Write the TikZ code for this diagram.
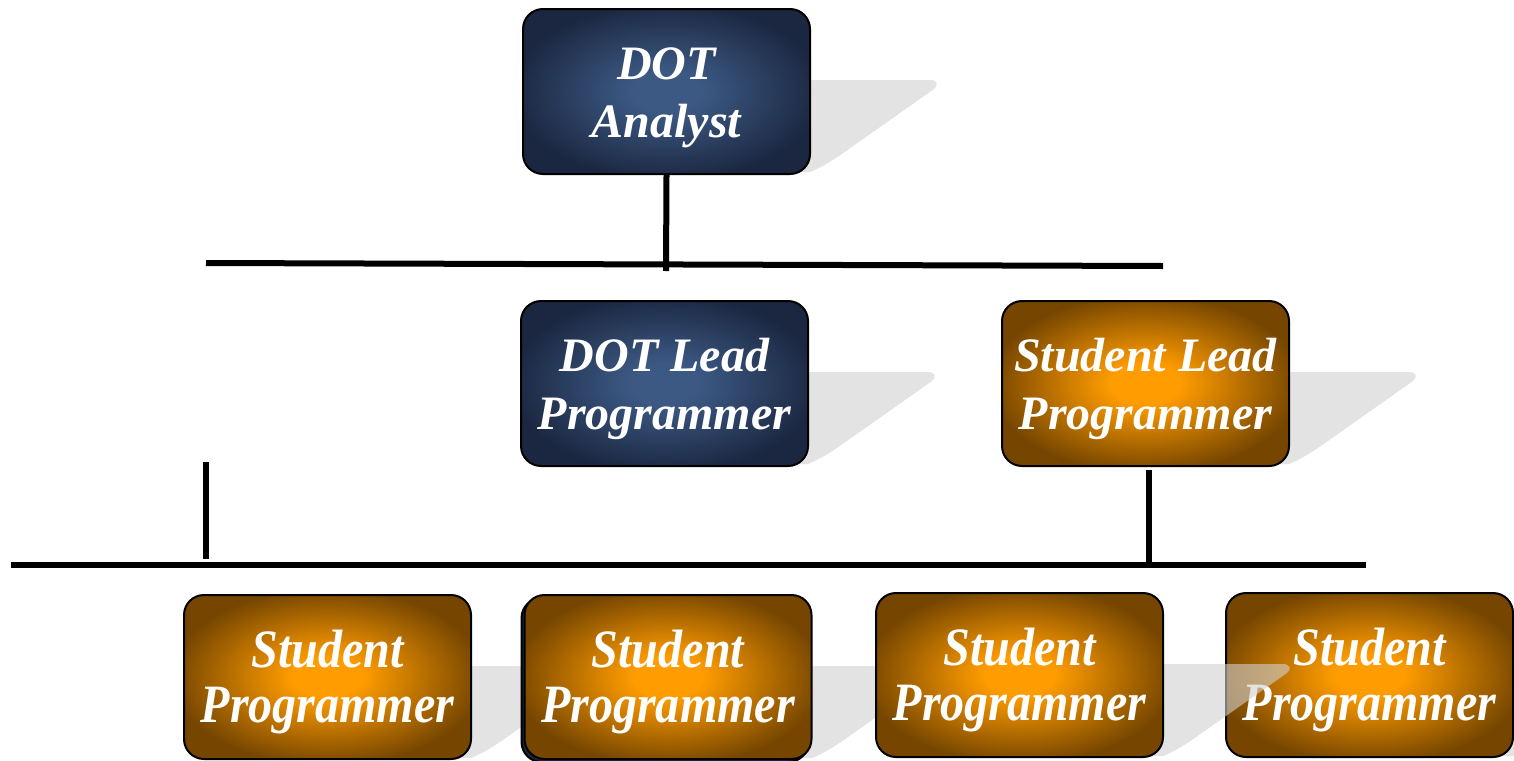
\documentclass[tikz,border=0pt]{standalone}
\usepackage{fontspec}
\setmainfont{Liberation Serif}
\usepackage{graphicx}
\definecolor{navyin}{RGB}{60,89,132}
\definecolor{navyout}{RGB}{27,39,64}
\definecolor{orin}{RGB}{255,156,0}
\definecolor{orout}{RGB}{118,70,0}
\pgfdeclareradialshading{navyglow}{\pgfpoint{0bp}{0bp}}{color(0bp)=(navyin); color(6bp)=(navyin); color(27bp)=(navyout); color(50bp)=(navyout)}
\pgfdeclareradialshading{orglow}{\pgfpoint{0bp}{0bp}}{color(0bp)=(orin); color(6bp)=(orin); color(27bp)=(orout); color(50bp)=(orout)}
\newcommand\sqz[1]{\scalebox{0.89}[1]{#1}}
\tikzset{
  box/.style={draw=black, line width=1pt, rounded corners=10pt, minimum width=143.5pt,
    minimum height=82.5pt, inner sep=0pt, align=center, text=white,
    font=\bfseries\itshape\fontsize{24}{29}\selectfont},
  navybox/.style={box, shading=navyglow},
  orbox/.style={box, shading=orglow},
  lowbox/.style={orbox, minimum height=82pt, font=\bfseries\itshape\fontsize{27}{27.5}\selectfont},
  backing/.style={draw=black, line width=1pt, rounded corners=10pt, fill=navyout,
    minimum width=143.5pt, minimum height=82pt, inner sep=0pt},
  shadowfill/.style={fill=black!18, fill opacity=0.6},
  bar/.style={draw=black, line width=3pt},
  shadowpic/.pic={\fill[shadowfill] (-100,71) -- (120,71) .. controls (127,71) and (129,76) .. (124,80)
      -- (36,142) .. controls (22,152) and (12,158) .. (0,163) -- (-100,163) -- cycle;}
}
\newcommand\tstrut{\rule{0pt}{21.8pt}}
\newcommand\lstrut{\rule{0pt}{24pt}}
\begin{document}
\begin{tikzpicture}[x=0.5pt,y=-0.5pt]
\clip (0,0) rectangle (1514,760);
\fill[white] (0,0) rectangle (1514,760);
% top
\pic at (810,9) {shadowpic};
\node[navybox] (analyst) at (666.5,91.5) {\tstrut DOT\\Analyst};
% middle
\pic at (808,301) {shadowpic};
\node[navybox] (dotlead) at (664.5,383.5) {\tstrut DOT Lead\\Programmer};
\pic at (1289,301) {shadowpic};
\node[orbox] (slead) at (1145.5,383.5) {\tstrut Student Lead\\Programmer};
% bottom
\pic at (471,595) {shadowpic};
\node[lowbox] (sp1) at (327.5,677) {\lstrut\sqz{Student}\\\sqz{Programmer}};
\pic at (812,595) {shadowpic};
\node[backing] (sp2back) at (665,680) {};
\node[lowbox] (sp2) at (668,677) {\lstrut\sqz{Student}\\\sqz{Programmer}};
\pic at (1513,593) {shadowpic};
\node[lowbox] (sp4) at (1369.5,675) {\lstrut\sqz{Student}\\\sqz{Programmer}};
\pic at (1163,593) {shadowpic};
\node[lowbox] (sp3) at (1019.5,675) {\lstrut\sqz{Student}\\\sqz{Programmer}};
% connectors
\coordinate (barAl) at (206,263);
\coordinate (barAr) at (1163,266);
\coordinate (jA) at (666,271);
\draw[bar] (barAl) -- (barAr);
\draw[bar] (analyst.south) -- (jA);
\coordinate (barBl) at (11,565);
\coordinate (barBr) at (1366,565);
\draw[bar] (barBl) -- (barBr);
\coordinate (vLtop) at (206,462);
\coordinate (vLbot) at (206,559);
\draw[bar] (vLtop) -- (vLbot);
\coordinate (vRtop) at (1149,470);
\coordinate (vRbot) at (1149,562);
\draw[bar] (vRtop) -- (vRbot);
\end{tikzpicture}
\end{document}
